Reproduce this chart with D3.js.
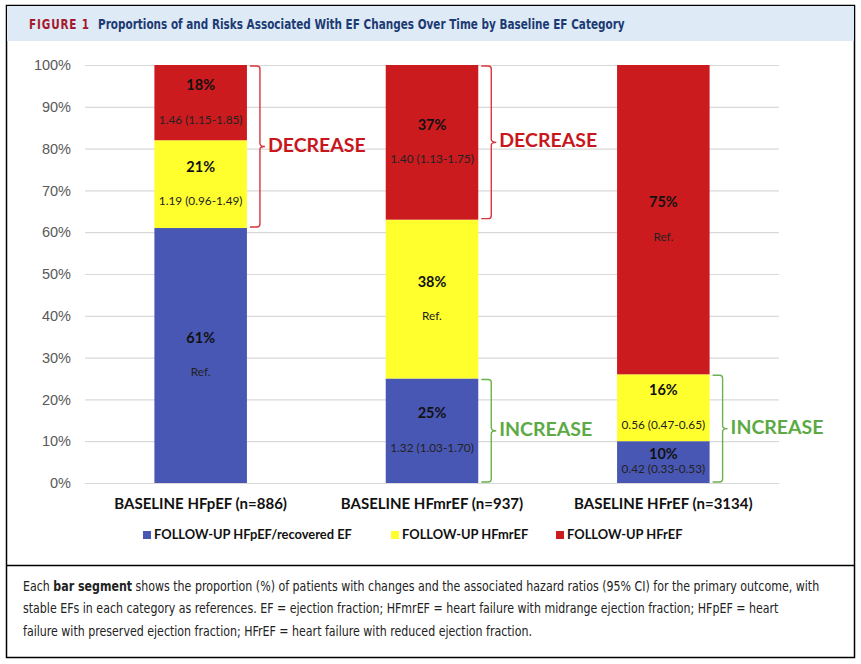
<!DOCTYPE html>
<html><head><meta charset="utf-8">
<script src="https://cdn.jsdelivr.net/npm/d3@7"></script>
<style>
body{margin:0;background:#fff;}
svg{display:block;}
</style></head>
<body>
<svg id="c" width="861" height="664"></svg>
<script>
const categories = ["BASELINE HFpEF (n=886)", "BASELINE HFmrEF (n=937)", "BASELINE HFrEF (n=3134)"];
const seriesNames = ["FOLLOW-UP HFpEF/recovered EF", "FOLLOW-UP HFmrEF", "FOLLOW-UP HFrEF"];
const bluePct = [61, 25, 10];
const yellowPct = [21, 38, 16];
const redPct = [18, 37, 75];
const blueHR = ["Ref.", "1.32 (1.03-1.70)", "0.42 (0.33-0.53)"];
const yellowHR = ["1.19 (0.96-1.49)", "Ref.", "0.56 (0.47-0.65)"];
const redHR = ["1.46 (1.15-1.85)", "1.40 (1.13-1.75)", "Ref."];
const yTicks = [0,10,20,30,40,50,60,70,80,90,100];
const braces = [
  {cat:0, label:"DECREASE", kind:"dec", startSeries:1},
  {cat:1, label:"DECREASE", kind:"dec", startSeries:2},
  {cat:1, label:"INCREASE", kind:"inc", startSeries:0},
  {cat:2, label:"INCREASE", kind:"inc", startSeries:1}
];
const title1 = "FIGURE 1";
const title2 = "Proportions of and Risks Associated With EF Changes Over Time by Baseline EF Category";
const captionLines = [
  [["Each ",false],["bar segment",true],[" shows the proportion (%) of patients with changes and the associated hazard ratios (95% CI) for the primary outcome, with",false]],
  [["stable EFs in each category as references. EF = ejection fraction; HFmrEF = heart failure with midrange ejection fraction; HFpEF = heart",false]],
  [["failure with preserved ejection fraction; HFrEF = heart failure with reduced ejection fraction.",false]]
];

const colors = ["#4957b4", "#ffff2e", "#cc1b1f"];
const svg = d3.select("#c");
const narrow = "'DejaVu Sans Condensed','DejaVu Sans',sans-serif";
const cal = "Lato, 'Open Sans', sans-serif";

// frame
svg.append("rect").attr("x",6.5).attr("y",5.5).attr("width",848).attr("height",652).attr("fill","none").attr("stroke","#000").attr("stroke-width",1.5);
svg.append("rect").attr("x",7).attr("y",6).attr("width",847).attr("height",35).attr("fill","#deeaf5");
svg.append("line").attr("x1",6).attr("x2",855).attr("y1",565.5).attr("y2",565.5).attr("stroke","#000").attr("stroke-width",1.5);

function squeeze(g, x0, target){
  const w = g.node().getBBox().width;
  const s = target / w;
  g.attr("transform", `translate(${x0},0) scale(${s},1) translate(${-x0},0)`);
  return s;
}

const tg1 = svg.append("g");
tg1.append("text").attr("x",29).attr("y",29).attr("font-family",narrow).attr("font-weight","bold").attr("font-size",13.5)
  .attr("fill","#a5192e").attr("letter-spacing",1).text(title1);
squeeze(tg1, 29, 61);
const tg2 = svg.append("g");
tg2.append("text").attr("x",98).attr("y",29).attr("font-family",narrow).attr("font-weight","bold").attr("font-size",13.5)
  .attr("fill","#1c3a74").text(title2);
squeeze(tg2, 98, 527);

// scales
const x = d3.scaleBand().domain(categories).range([85,779]).paddingInner(0.6).paddingOuter(0.3);
const y = d3.scaleLinear().domain([0,100]).range([483,65]);

const gy = svg.append("g").attr("transform","translate(85,0)")
  .call(d3.axisLeft(y).tickValues(yTicks).tickFormat(d=>d+"%").tickSize(-(779-85)).tickPadding(14));
gy.select(".domain").remove();
gy.selectAll(".tick line").attr("stroke","#d9d9d9").attr("stroke-width",1.2);
gy.selectAll(".tick text").attr("fill","#595959").attr("font-size",14.5).attr("font-family","'Liberation Sans',Arial,sans-serif");

// stack
const rows = categories.map((c,i)=>({cat:c, s0:bluePct[i], s1:yellowPct[i], s2:redPct[i]}));
const stack = d3.stack().keys(["s0","s1","s2"])(rows);
const hrs = [blueHR, yellowHR, redHR];
stack.forEach((layer,si)=>{
  layer.forEach((d,ci)=>{
    const top = Math.min(d[1],100);
    svg.append("rect").attr("x",x(categories[ci])).attr("width",x.bandwidth())
      .attr("y",y(top)).attr("height",y(d[0])-y(top)).attr("fill",colors[si]);
  });
});
stack.forEach((layer,si)=>{
  layer.forEach((d,ci)=>{
    const top = Math.min(d[1],100);
    const cy = (y(top)+y(d[0]))/2;
    const small = (top-d[0])<13;
    const cx = x(categories[ci])+x.bandwidth()/2;
    svg.append("text").attr("x",cx).attr("y",cy-(small?7:16)).attr("text-anchor","middle").attr("dominant-baseline","middle")
      .attr("font-family",cal).attr("font-weight","bold").attr("font-size",14.5).attr("fill","#111")
      .text(rows[ci]["s"+si]+"%");
    svg.append("text").attr("x",cx).attr("y",cy+(small?8:18)).attr("text-anchor","middle").attr("dominant-baseline","middle")
      .attr("font-family",cal).attr("font-size",11.8).attr("fill","#222")
      .text(hrs[si][ci]);
  });
});

// braces
braces.forEach(b=>{
  const ci = b.cat;
  const layers = stack.map(l=>l[ci]);
  let lo, hi;
  if(b.kind==="dec"){ lo = layers[b.startSeries][0]; hi = 100; }
  else { lo = 0; hi = layers[b.startSeries][1]; }
  const y1 = y(hi)+1, y2 = y(lo)-1, ym = (y1+y2)/2;
  const x0 = x(categories[ci])+x.bandwidth()+3, xv = x0+10, xt = xv+5;
  const r = 3;
  const col = b.kind==="dec" ? "#d6373d" : "#6cb04f";
  const p = `M${x0},${y1} L${xv-r},${y1} Q${xv},${y1} ${xv},${y1+r} L${xv},${ym-r} Q${xv},${ym} ${xt},${ym} Q${xv},${ym} ${xv},${ym+r} L${xv},${y2-r} Q${xv},${y2} ${xv-r},${y2} L${x0},${y2}`;
  svg.append("path").attr("d",p).attr("fill","none").attr("stroke",col).attr("stroke-width",1.4);
  svg.append("text").attr("x",xt+3).attr("y",ym).attr("dominant-baseline","middle")
    .attr("font-family",cal).attr("font-weight","bold").attr("font-size",19.5).attr("fill",b.kind==="dec"?"#c8161d":"#5daa45")
    .text(b.label);
});

// category labels
svg.selectAll(".cat").data(categories).enter().append("text")
  .attr("x",d=>x(d)+x.bandwidth()/2).attr("y",505).attr("text-anchor","middle").attr("dominant-baseline","middle")
  .attr("font-family",cal).attr("font-weight","bold").attr("font-size",15).attr("fill","#111").text(d=>d);

// legend
const legX = [143, 391, 556];
seriesNames.forEach((n,i)=>{
  svg.append("rect").attr("x",legX[i]).attr("y",531).attr("width",8).attr("height",8).attr("fill",colors[i]);
  svg.append("text").attr("x",legX[i]+11).attr("y",535.5).attr("dominant-baseline","middle")
    .attr("font-family",cal).attr("font-weight","bold").attr("font-size",12.9).attr("fill","#111").text(n);
});

// caption
const capG = svg.append("g");
captionLines.forEach((line,li)=>{
  const tx = capG.append("text").attr("x",23).attr("y",591+li*22.5).attr("font-family",narrow).attr("font-size",13.5).attr("fill","#222");
  line.forEach(([s,b])=>tx.append("tspan").attr("font-weight",b?"bold":"normal").text(s));
});
squeeze(capG, 23, 797);
</script>
</body></html>
